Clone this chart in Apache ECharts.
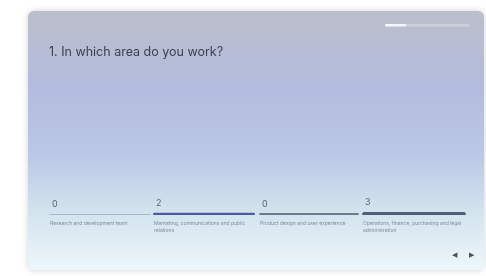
<!DOCTYPE html>
<html><head><meta charset="utf-8">
<script src="https://cdn.jsdelivr.net/npm/echarts@6/dist/echarts.min.js"></script>
<style>html,body{margin:0;padding:0;background:#fff}#c{width:486px;height:276px}</style>
</head><body><div id="c"></div>
<script>
var title = '1. In which area do you work?';
var categories = [
  'Research and development team',
  'Marketing, communications and public relations',
  'Product design and user experience',
  'Operations, finance, purchasing and legal administration'
];
var values = [0, 2, 0, 3];
var lineColors = ['#a8b8cf', '#4b5c9e', '#6f7a90', '#535e78'];
var lineWidths = [1.2, 2.2, 1.8, 2.2];

var colLeft = [50, 154, 260, 363];
var colWidth = [100, 100, 98, 102];

function wrap(text, maxChars) {
  var words = text.split(' '), lines = [], cur = '';
  words.forEach(function (w) {
    if (cur && (cur + ' ' + w).length > maxChars) { lines.push(cur); cur = w; }
    else { cur = cur ? cur + ' ' + w : w; }
  });
  if (cur) lines.push(cur);
  return lines.join('\n');
}

var grids = [], xAxes = [], yAxes = [], series = [];
categories.forEach(function (cat, i) {
  grids.push({left: colLeft[i], top: 114, width: colWidth[i], height: 100});
  xAxes.push({
    type: 'category', gridIndex: i, data: [cat],
    axisLine: {show: true, lineStyle: {color: lineColors[i], width: lineWidths[i]}},
    axisTick: {show: false}, axisLabel: {show: false},
    name: wrap(cat, 41), nameLocation: 'start', nameGap: 0,
    nameTextStyle: {align: 'left', verticalAlign: 'top', padding: [6, 0, 0, 0],
      color: '#848c9a', fontSize: 5, fontFamily: 'Inter', lineHeight: 7}
  });
  yAxes.push({type: 'value', gridIndex: i, min: 0, max: 150, show: false});
  series.push({
    type: 'bar', xAxisIndex: i, yAxisIndex: i, data: [values[i]],
    barWidth: '100%', silent: true,
    itemStyle: {color: lineColors[i]},
    label: {show: true, position: [2, -14], color: '#5b6274', fontSize: 9,
      fontFamily: 'Inter'}
  });
});

var chart = echarts.init(document.getElementById('c'), null, {renderer: 'canvas'});
chart.setOption({
  animation: false,
  backgroundColor: '#ffffff',
  grid: grids, xAxis: xAxes, yAxis: yAxes, series: series,
  graphic: [
    {type: 'rect', z: -10, shape: {x: 28, y: 11, width: 456, height: 259, r: 6},
      style: {
        fill: new echarts.graphic.LinearGradient(0, 0, 0, 1, [
          {offset: 0, color: '#bcbecb'},
          {offset: 0.3, color: '#b3bcde'},
          {offset: 0.55, color: '#bac7e6'},
          {offset: 0.78, color: '#d3e4ee'},
          {offset: 1, color: '#edf7fa'}
        ]),
        shadowBlur: 6, shadowColor: 'rgba(0,0,0,0.18)'
      }},
    {type: 'rect', z: -5, shape: {x: 385, y: 24, width: 85, height: 2.5, r: 1},
      style: {fill: '#cdd0dc'}},
    {type: 'rect', z: -4, shape: {x: 385, y: 24, width: 21, height: 2.5, r: 1},
      style: {fill: '#f4f5f8'}},
    {type: 'text', left: 49, top: 46,
      style: {text: title, fontSize: 12.5, fontFamily: 'Inter', fill: '#3b4052'}},
    {type: 'text', left: 452, top: 252,
      style: {text: '◀', fontSize: 7, fill: '#4a4f5c'}},
    {type: 'text', left: 469, top: 252,
      style: {text: '▶', fontSize: 7, fill: '#4a4f5c'}}
  ]
});
</script></body></html>
